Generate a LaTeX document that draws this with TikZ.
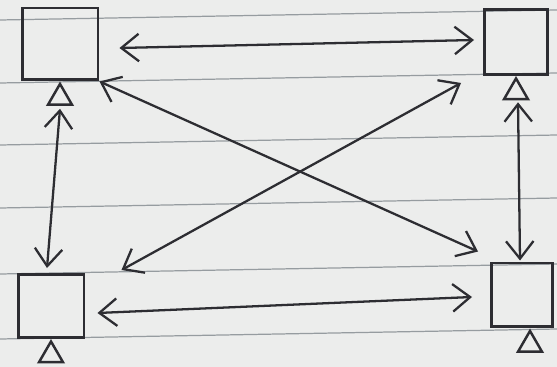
\documentclass[tikz,border=0pt]{standalone}
\usepackage{tikz}
\usetikzlibrary{shapes.geometric, arrows.meta, positioning, calc}
\definecolor{paper}{RGB}{236, 237, 236}
\definecolor{rule}{RGB}{150, 156, 160}
\definecolor{pen}{RGB}{45, 45, 50}

\begin{document}
\begin{tikzpicture}[x=0.02cm, y=-0.02cm]
            \tikzstyle{box} = [rectangle, draw=pen, line width=1.7pt, inner sep=0pt]
            \tikzstyle{stand} = [regular polygon, regular polygon sides=3, draw=pen, line width=1.4pt, inner sep=0pt, minimum size=0.55cm, anchor=north]
            \tikzstyle{link} = [pen, line width=1.3pt, line cap=round, {Straight Barb[length=0.35cm, width=0.55cm]}-{Straight Barb[length=0.35cm, width=0.55cm]}]

            % paper with ruled lines
            \fill[paper] (0,0) rectangle (557,367);
            \useasboundingbox (0,0) rectangle (557,367);
            \foreach \y in {20, 83, 145, 208, 274, 339}
                \draw[rule, line width=0.7pt] (0,\y) -- (557,\y-10);

            \node[box, minimum width=1.52cm, minimum height=1.44cm] (tl) at (60,44) {};
            \node[box, minimum width=1.26cm, minimum height=1.30cm] (tr) at (516,42) {};
            \node[box, minimum width=1.32cm, minimum height=1.26cm] (bl) at (51,306) {};
            \node[box, minimum width=1.22cm, minimum height=1.28cm] (br) at (522,295) {};

            \node[stand] (tls) at (tl.south) {};
            \node[stand] (trs) at (tr.south) {};
            \node[stand] (bls) at (bl.south) {};
            \node[stand] (brs) at ([xshift=0.16cm]br.south) {};

            \draw[link] ([xshift=0.4cm, yshift=-0.08cm]tl.east) -- ([xshift=-0.18cm, yshift=0.04cm]tr.west);
            \draw[link] ([xshift=0.24cm, yshift=-0.14cm]bl.east) -- ([xshift=-0.36cm, yshift=-0.04cm]br.west);
            \draw[link] ([yshift=-0.06cm]tls.south) -- ([xshift=-0.08cm, yshift=0.1cm]bl.north);
            \draw[link] ([xshift=0.04cm, yshift=-0.04cm]trs.south) -- ([xshift=-0.04cm, yshift=0.02cm]br.north);
            \draw[link] (tl.south east) -- ([xshift=-0.24cm, yshift=0.2cm]br.north west);
            \draw[link] ([xshift=0.72cm, yshift=0.06cm]bl.north east) -- ([xshift=-0.44cm, yshift=-0.14cm]tr.south west);
        \end{tikzpicture}
\end{document}
